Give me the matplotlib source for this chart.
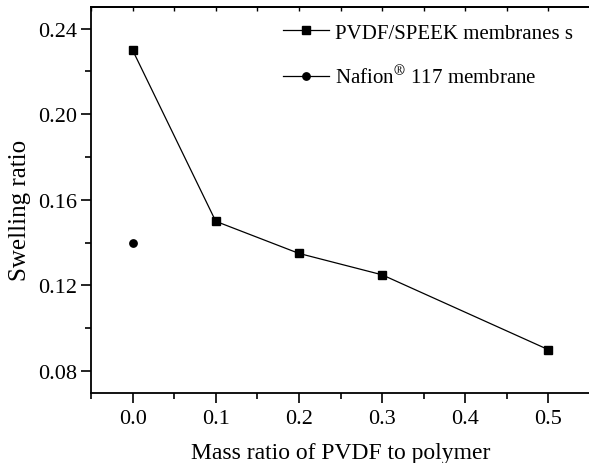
import numpy as np
import matplotlib
matplotlib.use('Agg')
import matplotlib.pyplot as plt

plt.rcParams['font.family'] = ['Liberation Serif', 'DejaVu Serif']
plt.rcParams['mathtext.fontset'] = 'stix'

# Swelling ratio vs PVDF mass ratio
mass_ratio = [0.0, 0.1, 0.2, 0.3, 0.5]
swelling   = [0.23, 0.15, 0.135, 0.125, 0.09]

# Nafion 117 reference membrane
nafion_x = [0.0]
nafion_y = [0.14]

xticks = [0.0, 0.1, 0.2, 0.3, 0.4, 0.5]
yticks = [0.08, 0.12, 0.16, 0.20, 0.24]

fig = plt.figure(figsize=(5.89, 4.64), dpi=100)
ax = fig.add_axes([91/589, 1-393.5/464, 499/589, (393.5-8.3)/464])

ax.plot(mass_ratio, swelling, '-', color='black', lw=0.9,
        marker='s', ms=5.3, mfc='black', mec='black',
        label='PVDF/SPEEK membranes s')
ax.plot(nafion_x, nafion_y, '-', color='black', lw=0.9,
        marker='o', ms=5.3, mfc='black', mec='black',
        label=r'Nafion$^{\circledR}$ 117 membrane')

ax.set_xlim(-0.05, 0.55)
ax.set_ylim(0.07, 0.25)
ax.set_xticks(xticks)
ax.set_yticks(yticks)
ax.set_xticks(np.arange(-0.05, 0.56, 0.05), minor=True)
ax.set_yticks(np.arange(0.08, 0.25, 0.02), minor=True)
ax.set_xticklabels(['{:.1f}'.format(v) for v in xticks])
ax.set_yticklabels(['{:.2f}'.format(v) for v in yticks])

for s in ['left', 'bottom', 'top']:
    ax.spines[s].set_linewidth(1.3)
ax.spines['right'].set_visible(False)

ax.tick_params(axis='both', which='major', direction='out', length=7,
               width=1.2, labelsize=16, pad=3)
ax.tick_params(axis='both', which='minor', direction='out', length=4,
               width=1.2)
ax.tick_params(axis='x', which='major', pad=5)

# inward ticks along the top edge
top = ax.secondary_xaxis('top')
top.set_xticks(xticks)
top.set_xticks(np.arange(-0.05, 0.56, 0.05), minor=True)
top.tick_params(which='both', direction='in', length=3, width=1.0,
                labeltop=False)
top.spines['top'].set_linewidth(1.3)

ax.set_xlabel('Mass ratio of PVDF to polymer', fontsize=17, labelpad=10)
ax.set_ylabel('Swelling ratio', fontsize=18)
ax.yaxis.set_label_coords(-0.12, 0.476)

ax.legend(loc='upper left', bbox_to_anchor=(283/589, 1-24/464),
          bbox_transform=fig.transFigure, frameon=False, fontsize=15,
          handlelength=2.2, handletextpad=0.3, labelspacing=1.1,
          borderaxespad=0, borderpad=0)

fig.savefig('out.png', dpi=100)
